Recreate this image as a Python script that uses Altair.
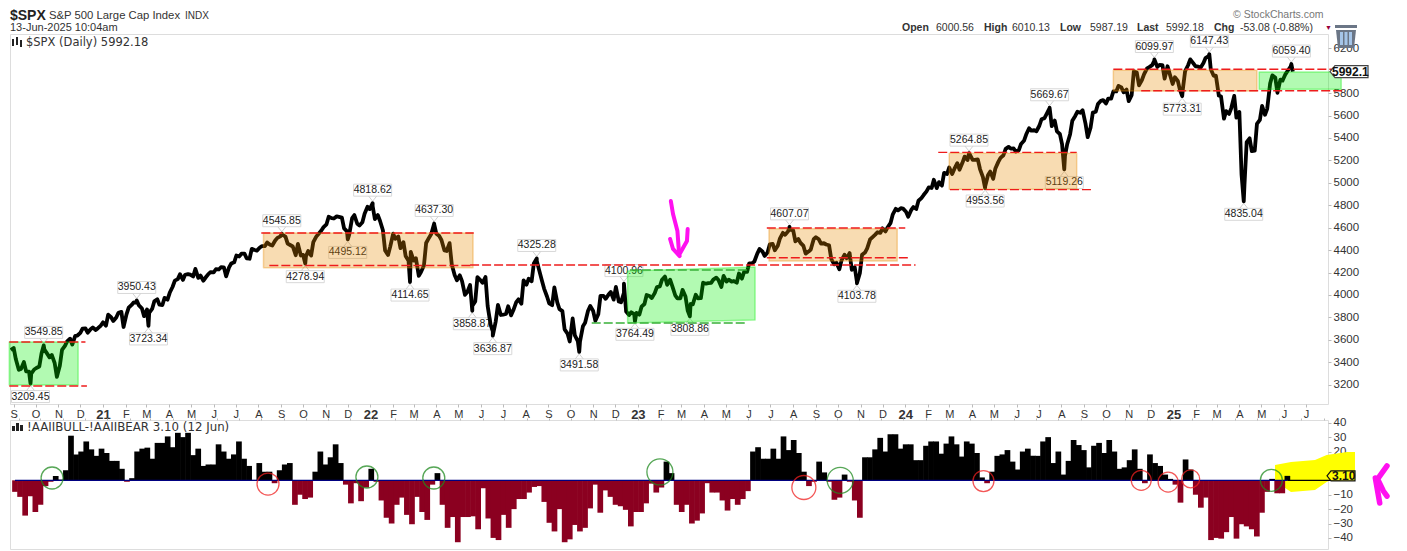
import altair as alt
import pandas as pd

# ---------- price: weekly closes, Aug 2020 .. Jun 2025
close = [3508,3426,3340,3319,3298,3348,3477,3483,3465,3269,3509,3585,3557,3638,3699,3663,3709,3703,3756,
3824,3768,3841,3714,3886,3934,3906,3811,3841,3943,3913,3974,4019,4128,4185,4180,4181,4232,4173,4155,4204,4229,4247,4166,4280,4352,4369,4327,4411,4395,4436,4468,4441,4509,4535,4458,4432,4455,4357,4391,4471,4544,4605,4697,4682,4697,4594,4538,4712,4620,4725,4766,
4677,4662,4397,4431,4500,4418,4348,4384,4328,4204,4463,4543,4545,4488,4392,4271,4131,4123,4023,3901,4158,4108,3900,3674,3911,3825,3899,3863,3961,4130,4145,4280,4228,4057,3924,4067,3873,3693,3585,3639,3583,3752,3901,3770,3992,3965,4026,4071,3934,3852,3845,3839,
3895,3999,3972,4070,4136,4090,4079,3970,4045,3861,3916,3970,4109,4105,4137,4133,4169,4136,4124,4191,4205,4282,4298,4409,4348,4450,4398,4505,4536,4582,4478,4464,4369,4405,4515,4457,4450,4320,4288,4308,4327,4224,4117,4358,4415,4514,4559,4594,4604,4719,4754,4770,
4697,4784,4840,4891,4959,5027,5006,5089,5137,5124,5117,5234,5254,5204,5123,4967,5100,5128,5223,5303,5305,5278,5347,5431,5465,5460,5567,5615,5505,5459,5346,5344,5554,5634,5648,5408,5626,5703,5738,5751,5815,5865,5808,5729,5995,5870,5969,6032,6090,6051,5930,5970,
5942,5827,5997,6101,6040,6026,6115,6013,5955,5770,5639,5667,5581,5074,5363,5283,5525,5686,5660,5958,5803,5912,6000,5992]

# mid-week readings between those closes
midweek = [3527,3332,3401,3315,3335,3361,3512,3443,3391,3369,3545,3610,3635,3662,3702,3694,3687,3727,
3726,3801,3799,3849,3826,3911,3932,3881,3870,3875,3962,3910,3958,4073,4141,4134,4186,4165,4152,4127,4188,4202,4227,4246,4246,4291,4343,4369,4323,4401,4423,4436,4448,4486,4522,4520,4443,4354,4352,4346,4351,4520,4575,4630,4685,4701,4690,4567,4686,4635,4649,4786,
4793,4713,4577,4356,4546,4521,4471,4304,4306,4170,4262,4511,4631,4525,4397,4462,4175,4175,4001,4088,3941,4132,4160,3735,3765,3821,3831,3818,3936,3921,4091,4122,4305,4128,3986,3908,3933,3855,3655,3790,3588,3720,3859,3856,3828,3991,4003,3958,3941,4019,3821,3829,
3824,3919,3990,4016,4076,4164,4136,3997,3970,3986,3919,4002,3971,4100,4108,4154,4071,4119,4119,4109,4145,4205,4283,4369,4388,4378,4455,4439,4554,4567,4576,4499,4437,4387,4497,4496,4461,4443,4273,4229,4358,4373,4247,4193,4378,4495,4538,4554,4567,4643,4768,4774,
4742,4756,4766,4864,4924,4954,4953,4975,5078,5078,5175,5178,5203,5205,5209,5051,5070,5035,5187,5246,5321,5306,5291,5375,5487,5469,5509,5577,5667,5555,5436,5240,5434,5597,5625,5528,5495,5634,5732,5708,5751,5815,5851,5832,5782,5984,5917,6021,6050,6034,6050,6040,5882,
5909,5842,6049,6067,6037,6068,6129,5955,5778,5572,5615,5776,5633,4983,5397,5288,5561,5607,5886,5940,5921,5970,6038]

high_dates = ["2020-10-12","2021-02-16","2021-09-02","2022-01-04","2022-03-29","2022-08-16","2022-12-13","2023-07-27","2024-03-28","2024-07-16","2024-12-06","2025-02-19","2025-06-11"]
high_vals = [3549.85,3950.43,4545.85,4818.62,4637.30,4325.28,4100.96,4607.07,5264.85,5669.67,6099.97,6147.43,6059.40]
high_text = ["3549.85","3950.43","4545.85","4818.62","4637.30","4325.28","4100.96","4607.07","5264.85","5669.67","6099.97","6147.43","6059.40"]
low_dates = ["2020-09-24","2021-03-04","2021-10-04","2021-12-01","2022-02-24","2022-05-20","2022-06-17","2022-10-13","2022-12-28","2023-03-13","2023-10-27","2024-04-19","2024-08-05","2025-01-13","2025-04-07"]
low_vals = [3209.45,3723.34,4278.94,4495.12,4114.65,3858.87,3636.87,3491.58,3764.49,3808.86,4103.78,4953.56,5119.26,5773.31,4835.04]
low_text = ["3209.45","3723.34","4278.94","4495.12","4114.65","3858.87","3636.87","3491.58","3764.49","3808.86","4103.78","4953.56","5119.26","5773.31","4835.04"]

# shaded trading ranges
zone_names = ["g1","o1","g2","o2","o3","o4","g3"]
zone_kind = ["green","orange","green","orange","orange","orange","green"]
zone_start = ["2020-08-26","2021-08-08","2022-12-18","2023-06-29","2024-03-01","2024-10-11","2025-04-28"]
zone_end = ["2020-11-28","2022-05-21","2023-06-10","2023-12-21","2024-08-22","2025-04-25","2025-08-18"]
zone_top0 = [3580,4552,4213,4590,5263,6004,5989]
zone_top1 = [3580,4552,4249,4590,5263,6004,5989]
zone_bot0 = [3197,4243,3750,4303,4942,5819,5834]
zone_bot1 = [3197,4243,3776,4303,4942,5819,5834]

# dashed levels
level_val = [3580,3188,4552,4262,4267,4597,4332,5272,4939,6013,5822,4222,3750]
level_start = ["2020-08-26","2020-08-26","2021-08-05","2021-08-16","2022-05-17","2023-06-26","2023-06-26","2024-02-15","2024-03-02","2024-10-11","2024-11-18","2022-12-21","2022-10-30"]
level_end = ["2020-12-08","2020-12-10","2022-05-22","2022-05-21","2024-01-15","2024-01-01","2024-01-07","2024-08-22","2024-09-12","2025-08-23","2025-08-23","2023-06-03","2023-05-30"]
level_kind = ["red"]*11 + ["green"]*2

# magenta hand-drawn arrow
arrow_id = [0,0,0,0,1,1,1,2,2,2]
arrow_date = ["2023-02-15","2023-02-18","2023-02-24","2023-02-26","2023-03-10","2023-03-09","2023-02-27","2023-02-14","2023-02-18","2023-02-27"]
arrow_val = [4838,4722,4570,4392,4588,4481,4365,4499,4410,4347]

# ---------- AAII bull-bear spread, weekly
spread = [-8,-11.5,-24.5,-11,-22,-17,-4,-1,3,0.5,7,31,18,20,27,21.5,17,22,19,13.5,13.5,8,-1,1.5,20,22,22.7,15,26,26,30.5,23,33,30,33,17.5,22,10,11,11,25,20,15,18,27,15,10,0.3,12,6,6,-2,7,11,12,-17,-10,-13,-12,6,20,11,16,25,12,-3,-16,-2,-14.5,-5,8,-1,-14,-26,-30,-17,-12,-24,-30.5,-11.5,-22,-27.5,-3,5,-17,-33,-25.5,-43,-25.5,-25.5,
-25,-34,-5.5,-26.5,-40,-41.5,-24,-33,-20,-13,-13,-8.5,-4.6,-4,-15,-29.5,-35.5,-20,-43,-41,-31,-35.5,-33,-19.5,-3,-22.5,-7,-11.5,-17,-18,-20.5,-32,-22,-22,-16,-2.3,-8.5,-5,13,5,-17,-22,-17,-30,-28,-23,-2,-8.5,-8.5,-14,-21,-13,-17,-13,-7.5,20,23,15,15,22,15,30.5,21,28,19,6,-4,-1,13,5.5,-1,-13.5,-12,4,-1,-14,-26,16,16,21.5,29.5,20,32,32,22,25,25,14,14,24,27,27,
18.5,25.5,30.5,25,16.5,27,25.5,19,2,-2,6,17,18,21,13,7.5,20,22,17,17,27,30,12,20,4,13.5,28,24.5,21,9,24,26,19,28,20,8,9,14,21.5,8,-2,18,12,10,4,1,-3,-15.5,14.5,7.5,-10,-19,-12,-41.5,-40,-40.5,-36,-25.5,-40.5,-30.5,-32,-34,-39,-22.5,-8,1,-9,-9,3.1]

circle_dates = ["2020-10-17","2021-12-24","2022-03-26","2023-01-31","2023-10-06","2025-05-21","2021-08-10","2023-08-17","2024-04-20","2024-11-23","2024-12-30","2025-01-30"]
circle_vals = [1.6,2.3,1.6,5.8,0,0,-2.6,-5,-0.5,0,-1.2,1]
circle_kind = ["green"]*6 + ["red"]*6
circle_size = [484,484,484,676,676,484,484,576,441,400,400,324]

yellow_date = ["2025-05-26","2025-06-17","2025-07-20","2025-08-05","2025-09-02","2025-09-13"]
yellow_top = [10.6,12.7,14.1,17.6,19.7,19.7]
yellow_bot = [-0.5,-8.1,-6.7,-1.2,5.1,5.1]

scrib_id = [0,0,0,0,1,1]
scrib_date = ["2025-10-27","2025-10-14","2025-10-22","2025-10-27","2025-10-11","2025-10-17"]
scrib_val = [10,0.9,-7.4,-11,1.6,-15.8]

# ---------- tables
weeks = pd.date_range(end="2025-06-13", periods=len(close), freq="7D")
mids = pd.date_range(end="2025-06-10", periods=len(midweek), freq="7D")
line_df = pd.concat([
    pd.DataFrame({"date": weeks, "v": close}),
    pd.DataFrame({"date": mids, "v": midweek}),
    pd.DataFrame({"date": pd.to_datetime(high_dates), "v": high_vals}),
    pd.DataFrame({"date": pd.to_datetime(low_dates), "v": low_vals}),
]).sort_values("date")
line_df["date"] = line_df["date"].dt.strftime("%Y-%m-%d")
highs = pd.DataFrame({"date": high_dates, "v": high_vals, "t": high_text})
lows = pd.DataFrame({"date": low_dates, "v": low_vals, "t": low_text})
ZONE_HEX = {"green": "#00ee00", "orange": "#e78a00"}
zrows = []
for i, n in enumerate(zone_names):
    c = ZONE_HEX[zone_kind[i]]
    zrows.append(dict(zone=n, c=c, date=zone_start[i], top=zone_top0[i], bot=zone_bot0[i]))
    zrows.append(dict(zone=n, c=c, date=zone_end[i], top=zone_top1[i], bot=zone_bot1[i]))
zones = pd.DataFrame(zrows)
LEVEL_HEX = {"red": "#ee1c1c", "green": "#38b038"}
levels = pd.DataFrame({"v": level_val, "date": level_start, "end": level_end, "c": [LEVEL_HEX[k] for k in level_kind]})
arrow = pd.DataFrame({"id": arrow_id, "date": arrow_date, "v": arrow_val})
arrow["o"] = range(len(arrow))

bar_dates = pd.date_range(end="2025-06-12", periods=len(spread), freq="7D")
bars = pd.DataFrame({"date": bar_dates.strftime("%Y-%m-%d"), "v": spread})
bars["c"] = ["#000000" if v > 0 else "#8b0020" for v in spread]
CIRC_HEX = {"green": "#1f8a1f", "red": "#f02020"}
circles = pd.DataFrame({"date": circle_dates, "v": circle_vals, "c": [CIRC_HEX[k] for k in circle_kind], "s": circle_size})
yellow = pd.DataFrame({"date": yellow_date, "top": yellow_top, "bot": yellow_bot})
scrib = pd.DataFrame({"id": scrib_id, "date": scrib_date, "v": scrib_val})
scrib["o"] = range(len(scrib))

# ---------- shared encodings
FONT = "Liberation Sans"
TXT = "#333333"
xscale = alt.Scale(domain=["2020-08-27", "2025-07-31"], nice=False)
xaxis = alt.Axis(title=None, orient="bottom", tickCount={"interval": "month", "step": 1}, labelOverlap=False,
                 labelBound=False, labelFlush=False, grid=False, domain=False, tickColor="#bbbbbb", tickSize=3,
                 labelPadding=1, labelColor=TXT, labelFont=FONT,
                 labelFontSize=alt.expr("month(datum.value)==0 ? 13 : 11"),
                 labelFontWeight=alt.expr("month(datum.value)==0 ? 'bold' : 'normal'"),
                 labelExpr="month(datum.value)==0 ? timeFormat(datum.value,'%y') : slice(timeFormat(datum.value,'%b'),0,1)")
X = alt.X("date:T", scale=xscale, axis=xaxis)
yscale1 = alt.Scale(domain=[3027, 6327.6], nice=False, zero=False)
yaxis1 = alt.Axis(title=None, orient="right", values=[v for v in range(3200, 6201, 200) if v != 6000], grid=False, domain=False,
                  tickColor="#bbbbbb", tickSize=3, labelPadding=2, labelColor=TXT, labelFont=FONT, labelFontSize=11.5,
                  labelOverlap=False, labelFlush=False, labelBound=False, format="d")
Y1 = alt.Y("v:Q", scale=yscale1, axis=yaxis1)

def note(text, x, y, size=11, weight="normal", color=TXT, font=FONT, align="left"):
    return alt.Chart(pd.DataFrame({"a": [text]})).mark_text(
        text=text, fontSize=size, fontWeight=weight, color=color, font=font, align=align, baseline="alphabetic"
    ).encode(x=alt.value(x), y=alt.value(y))

def glyph(path, x, y, fill, stroke=None, sw=1):
    kw = dict(shape=path, size=4, filled=True, fill=fill, opacity=1)
    if stroke:
        kw.update(stroke=stroke, strokeWidth=sw)
    return alt.Chart(pd.DataFrame({"a": [0]})).mark_point(**kw).encode(x=alt.value(x), y=alt.value(y))

box_above = alt.Chart(highs).mark_point(shape="M-19,-19H19V-7H-19Z", size=4, filled=True, fill="white", stroke="#d8d8d8", strokeWidth=1, opacity=1).encode(x=X, y=Y1)
box_below = alt.Chart(lows).mark_point(shape="M-19,7H19V19H-19Z", size=4, filled=True, fill="white", stroke="#d8d8d8", strokeWidth=1, opacity=1).encode(x=X, y=Y1)
cone_above = alt.Chart(highs).mark_point(shape="M-4,-7L0,-2L4,-7", size=4, stroke="#d0d0d0", strokeWidth=1, opacity=1).encode(x=X, y=Y1)
cone_below = alt.Chart(lows).mark_point(shape="M-4,7L0,2L4,7", size=4, stroke="#d0d0d0", strokeWidth=1, opacity=1).encode(x=X, y=Y1)
text_above = alt.Chart(highs).mark_text(font=FONT, fontSize=10.5, color="#222222", dy=-13).encode(x=X, y=Y1, text="t:N")
text_below = alt.Chart(lows).mark_text(font=FONT, fontSize=10.5, color="#222222", dy=13).encode(x=X, y=Y1, text="t:N")
price = alt.Chart(line_df).mark_line(color="black", strokeWidth=3.8, strokeJoin="round", interpolate="linear", clip=True).encode(x=X, y=Y1)

zone_mark = alt.Chart(zones).mark_area(fillOpacity=0.3, strokeOpacity=0.35, strokeWidth=1.5, strokeJoin="round").encode(
    x=X, y=alt.Y("top:Q", scale=yscale1, axis=yaxis1), y2="bot:Q", detail="zone:N",
    color=alt.Color("c:N", scale=None), stroke=alt.Stroke("c:N", scale=None))
level_mark = alt.Chart(levels).mark_rule(strokeDash=[9, 3], strokeWidth=1.4).encode(
    x=X, x2="end:T", y=Y1, color=alt.Color("c:N", scale=None))
arrow_mark = alt.Chart(arrow).mark_line(color="#ff10f0", strokeWidth=4, strokeCap="round", strokeJoin="round").encode(x=X, y=Y1, detail="id:N", order="o:Q")

TRASH_BODY = "M-10,-6H10L8,12H-8Z"
TRASH_LID = "M-11,-11H11V-8H-11Z"
STRIPES = "M-6,-4H-3V9H-6ZM-1.5,-4H1.5V9H-1.5ZM3,-4H6V9H3Z"
TAG = "M-18,0L-13,-6H20V6H-13Z"
ICON = "M-5,-3H-3V4H-5ZM-1,-5H1V3H-1ZM3,-2H5V5H3Z"
BARS = "M-5,-1H-2V4H-5ZM-1,-4H2V4H-1ZM3,-2H6V4H3Z"

top = alt.layer(
    box_above, box_below, cone_above, cone_below, text_above, text_below,
    price, zone_mark, level_mark, arrow_mark,
    note("$SPX", 0, -14.5, 14, "bold", "#222222"),
    note("S&P 500 Large Cap Index", 39, -15, 11.3),
    note("INDX", 175, -15, 10),
    note("13-Jun-2025 10:04am", 0, -3, 11),
    note("© StockCharts.com", 1223, -16, 10.5, "normal", "#777777"),
    note("Open", 892, -3, 10.5, "bold"), note("6000.56", 926, -3, 10.5),
    note("High", 974, -3, 10.5, "bold"), note("6010.13", 1002, -3, 10.5),
    note("Low", 1050, -3, 10.5, "bold"), note("5987.19", 1080, -3, 10.5),
    note("Last", 1127, -3, 10.5, "bold"), note("5992.18", 1156, -3, 10.5),
    note("Chg", 1204, -3, 10.5, "bold"), note("-53.08 (-0.88%)", 1230, -3, 10.5),
    note("▼", 1315, -4, 7, "normal", "#99003a"),
    glyph(ICON, 7, 8, "#222222"),
    note("$SPX (Daily) 5992.18", 16, 12, 11.5, "normal", "#333333", "DejaVu Sans"),
    glyph(TRASH_LID, 1336, 2, "#6b7686"), glyph(TRASH_BODY, 1336, 2, "#6b7686"), glyph(STRIPES, 1336, 2, "#a5c5e8"),
    glyph(TAG, 1338, 37.6, "white", "#444444", 1.2),
    note("5992.1", 1322, 42, 12, "bold", "#111111"),
).properties(width=1318, height=370)

# ---------- lower panel
yscale2 = alt.Scale(domain=[-47.7, 41.9], nice=False, zero=False)
yaxis2 = alt.Axis(title=None, orient="right", values=[-40, -30, -20, -10, 10, 20, 30, 40], grid=False, domain=False,
                  tickColor="#bbbbbb", tickSize=3, labelPadding=2, labelColor=TXT, labelFont=FONT, labelFontSize=11.5,
                  labelOverlap=False, labelFlush=False, labelBound=False, format="d")
xaxis2 = alt.Axis(title=None, orient="top", tickCount={"interval": "month", "step": 1}, labels=False, grid=False,
                  domain=False, tickColor="#bbbbbb", tickSize=2)
X2 = alt.X("date:T", scale=xscale, axis=xaxis2)
Y2 = alt.Y("v:Q", scale=yscale2, axis=yaxis2)

yel = alt.Chart(yellow).mark_area(color="#ffff00", interpolate="linear").encode(x=X2, y=alt.Y("top:Q", scale=yscale2, axis=yaxis2), y2="bot:Q")
bar_mark = alt.Chart(bars).mark_bar(width=5.7, clip=True).encode(
    x=X2, y=Y2, y2=alt.datum(0), color=alt.Color("c:N", scale=None))
zero_line = alt.Chart(pd.DataFrame({"date": ["2020-08-27"], "end": ["2025-06-12"], "v": [0]})).mark_rule(color="#000080", strokeWidth=1.3).encode(x=X2, x2="end:T", y=Y2)
last_line = alt.Chart(pd.DataFrame({"date": ["2025-06-12"], "end": ["2025-08-24"], "v": [0]})).mark_rule(color="#000000", strokeWidth=1.3).encode(x=X2, x2="end:T", y=Y2)
circ = alt.Chart(circles).mark_point(filled=False, strokeWidth=1.3, opacity=0.75).encode(
    x=X2, y=Y2, size=alt.Size("s:Q", scale=None), color=alt.Color("c:N", scale=None))
scribble = alt.Chart(scrib).mark_line(color="#ff10f0", strokeWidth=5.5, strokeCap="round", strokeJoin="round").encode(x=X2, y=Y2, detail="id:N", order="o:Q")

low_panel = alt.layer(
    yel, bar_mark, zero_line, last_line, circ, scribble,
    glyph(BARS, 7, 7, "#222222"),
    note("!AAIIBULL-!AAIIBEAR 3.10 (12 Jun)", 17, 11, 11.8, "normal", "#333333", "DejaVu Sans"),
    glyph("M-14,0L-10,-5H14V5H-10Z", 1331, 55.8, "#ffff00", "#111111", 1.2),
    note("3.10", 1322, 60, 12, "bold", "#111111"),
).properties(width=1318, height=129)

chart = alt.vconcat(top, low_panel, spacing=16, bounds="flush", padding={"left": 0, "top": 0, "right": 0, "bottom": 0}).configure_view(stroke="#c8c8c8", strokeWidth=1.5).configure(background="white", padding={"left": 0, "top": 0, "right": 0, "bottom": 0})

chart.save("out.html", embed_options={"renderer": "svg", "actions": False})
